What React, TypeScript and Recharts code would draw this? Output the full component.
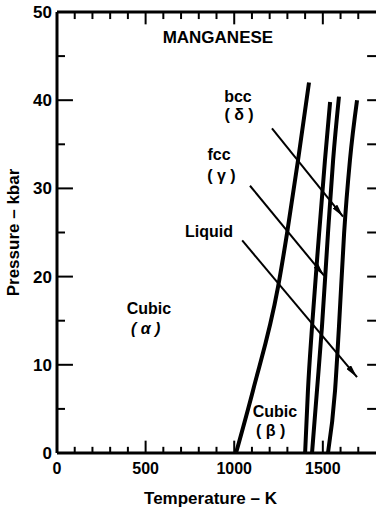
import { ComposedChart, Line, XAxis, YAxis, ReferenceDot, ReferenceLine, Label } from 'recharts'

const FONT = '"Liberation Sans", Arial, sans-serif'

// phase boundaries, temperature (K) vs pressure (kbar)
const alphaBeta = [
  { t: 1010, p: 0 }, { t: 1106, p: 7.1 }, { t: 1247, p: 18.8 },
  { t: 1298, p: 24.9 }, { t: 1360, p: 33.2 }, { t: 1422, p: 42 },
]
const betaGamma = [
  { t: 1400, p: 0 }, { t: 1416, p: 7.1 }, { t: 1439, p: 14.3 },
  { t: 1479, p: 24.9 }, { t: 1512, p: 33.2 }, { t: 1541, p: 39.8 },
]
const gammaDelta = [
  { t: 1439, p: 0 }, { t: 1467, p: 7.1 }, { t: 1495, p: 14.3 },
  { t: 1529, p: 24.9 }, { t: 1558, p: 33.2 }, { t: 1591, p: 40.4 },
]
const melting = [
  { t: 1529, p: 0 }, { t: 1569, p: 7.1 }, { t: 1591, p: 14.3 },
  { t: 1620, p: 24.9 }, { t: 1653, p: 33.2 }, { t: 1693, p: 40 },
]
const curves = [alphaBeta, betaGamma, gammaDelta, melting]

// label arrows (start -> head)
const arrowBcc = [{ t: 1213, p: 36.8 }, { t: 1614, p: 26.8 }]
const arrowFcc = [{ t: 1089, p: 30.3 }, { t: 1507, p: 20.1 }]
const arrowLiquid = [{ t: 1045, p: 24.1 }, { t: 1693, p: 8.6 }]
const arrows = [arrowBcc, arrowFcc, arrowLiquid]

const labels = [
  { t: 908, p: 47.1, text: 'MANGANESE', size: 17 },
  { t: 1021, p: 40.4, text: 'bcc', size: 16 },
  { t: 1027, p: 38.4, text: '( δ )', size: 16 },
  { t: 914, p: 33.9, text: 'fcc', size: 16 },
  { t: 928, p: 31.5, text: '( γ )', size: 16 },
  { t: 858, p: 25.1, text: 'Liquid', size: 16 },
  { t: 519, p: 16.4, text: 'Cubic', size: 16 },
  { t: 500, p: 14.1, text: '( α )', size: 16 },
  { t: 1230, p: 4.7, text: 'Cubic', size: 16 },
  { t: 1205, p: 2.6, text: '( β )', size: 16 },
]

const xTicks = [0, 100, 200, 300, 400, 500, 600, 700, 800, 900, 1000, 1100, 1200, 1300, 1400, 1500, 1600, 1700, 1800]
const yTicks = [0, 5, 10, 15, 20, 25, 30, 35, 40, 45, 50]
const xLabels = [0, 500, 1000, 1500]
const yLabels = [0, 10, 20, 30, 40, 50]

const txt = { fontFamily: FONT, fontWeight: 700, fill: '#000' }

// inner tick marks of the frame, lengths in axis units
const xInner = xTicks.filter(v => v > 0 && v < 1800)
const yInner = yTicks.filter(v => v > 0 && v < 50)
const tickMarks = [
  ...xInner.map(v => [{ x: v, y: 0 }, { x: v, y: v % 500 === 0 ? 1.4 : 0.7 }]),
  ...xInner.map(v => [{ x: v, y: 50 }, { x: v, y: v % 500 === 0 ? 48.6 : 49.2 }]),
  ...yInner.map(v => [{ x: 0, y: v }, { x: v % 10 === 0 ? 90 : 45, y: v }]),
  ...yInner.map(v => [{ x: 1800, y: v }, { x: 1750, y: v }]),
]

const BottomTick = ({ x, y, payload }: any) => (
  <text x={x} y={y + 21} textAnchor="middle" fontSize={16} {...txt}>{payload.value}</text>
)

const LeftTick = ({ x, y, payload }: any) => (
  <text x={x - 5} y={y + 6} textAnchor="end" fontSize={17} {...txt}>{payload.value}</text>
)

const TextMark = (text: string, size: number) => (props: any) => (
  <text x={props.cx} y={props.cy} textAnchor="middle" dominantBaseline="central" fontSize={size}
    fontStyle={text.includes('α') ? 'italic' : 'normal'} {...txt}>{text}</text>
)

const axisLine = { stroke: '#000', strokeWidth: 3 }

export default function App() {
  return (
    <div style={{ position: 'absolute', left: 0, top: 0, background: '#fff' }}>
      <svg width={0} height={0} style={{ position: 'absolute' }}>
        <defs>
          <marker id="arrowhead" viewBox="0 0 13 6" refX={13} refY={3} markerWidth={13} markerHeight={6}
            orient="auto" markerUnits="userSpaceOnUse">
            <path d="M0,0 L13,3 L0,6 z" fill="#000" />
          </marker>
        </defs>
      </svg>
      <ComposedChart width={385} height={514} margin={{ top: 11, right: 9, bottom: 0, left: 0 }}>
        <XAxis dataKey="t" type="number" domain={[0, 1800]} ticks={xLabels} interval={0} height={61}
          tickSize={0} tickMargin={0} tickLine={false} axisLine={axisLine} tick={<BottomTick />}>
          <Label content={(props: any) => {
            const vb = props.viewBox
            return <text x={vb.x + vb.width / 2 - 6} y={vb.y + 51} textAnchor="middle" fontSize={17} {...txt}>Temperature – K</text>
          }} />
        </XAxis>
        <XAxis xAxisId="top" orientation="top" type="number" domain={[0, 1800]} height={1}
          tickLine={false} axisLine={axisLine} tick={false} />
        <YAxis type="number" domain={[0, 50]} ticks={yLabels} interval={0} width={57}
          tickSize={0} tickMargin={0} tickLine={false} axisLine={axisLine} tick={<LeftTick />}>
          <Label content={(props: any) => {
            const vb = props.viewBox
            const cy = vb.y + vb.height / 2
            return <text x={13} y={cy} transform={`rotate(-90 13 ${cy})`} textAnchor="middle" dominantBaseline="central" fontSize={17} {...txt}>Pressure – kbar</text>
          }} />
        </YAxis>
        <YAxis yAxisId="r" orientation="right" type="number" domain={[0, 50]} width={0}
          tickLine={false} axisLine={axisLine} tick={false} />
        {tickMarks.map((s, i) => (
          <ReferenceLine key={'t' + i} segment={s} stroke="#000" strokeWidth={2} />
        ))}
        {curves.map((d, i) => (
          <Line key={'c' + i} data={d} dataKey="p" type="monotone" stroke="#000" strokeWidth={4}
            dot={false} activeDot={false} isAnimationActive={false} />
        ))}
        {arrows.map((d, i) => (
          <Line key={'a' + i} data={d} dataKey="p" type="linear" stroke="#000" strokeWidth={2}
            markerEnd="url(#arrowhead)" dot={false} activeDot={false} isAnimationActive={false} />
        ))}
        {labels.map((l, i) => (
          <ReferenceDot key={'l' + i} x={l.t} y={l.p} r={0} shape={TextMark(l.text, l.size)} />
        ))}
      </ComposedChart>
    </div>
  )
}
